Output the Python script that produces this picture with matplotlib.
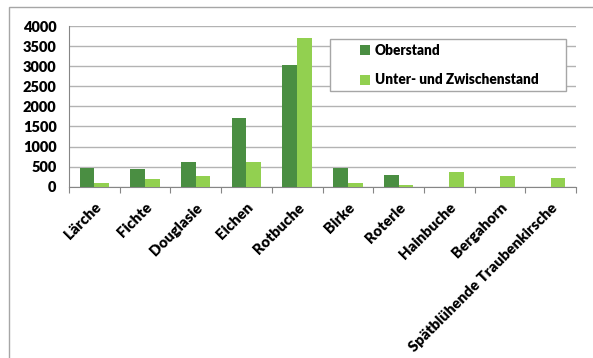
import numpy as np
from matplotlib import pyplot as plt
from matplotlib.patches import Rectangle

species = ['Lärche', 'Fichte', 'Douglasie', 'Eichen', 'Rotbuche', 'Birke',
           'Roterle', 'Hainbuche', 'Bergahorn', 'Spätblühende Traubenkirsche']
oberstand = [455, 435, 605, 1710, 3035, 470, 285, 0, 0, 0]
unterstand = [95, 180, 255, 605, 3705, 90, 40, 370, 265, 215]
yticks = [0, 500, 1000, 1500, 2000, 2500, 3000, 3500, 4000]

dark = '#4a8e42'
light = '#92d050'

plt.rcParams['font.family'] = ['Lato', 'DejaVu Sans']

fig = plt.figure(figsize=(5.93, 3.58), dpi=100)
# outer chart frame, cut off at right and bottom
fig.patches.append(Rectangle((9 / 593, -0.1), 1.2, 1 - 7 / 358 + 0.1,
                             transform=fig.transFigure, fill=False,
                             edgecolor='#a6a6a6', linewidth=1))

ax = fig.add_axes([69 / 593, 1 - 186.7 / 358, 507 / 593, 160.7 / 358])

x = np.arange(len(species))
w = 0.29
ax.bar(x - w / 2, oberstand, w, color=dark, label='Oberstand', zorder=3)
ax.bar(x + w / 2, unterstand, w, color=light, label='Unter- und Zwischenstand', zorder=3)

ax.set_xlim(-0.5, len(species) - 0.5)
ax.set_ylim(0, 4000)
ax.set_yticks(yticks)
ax.set_yticklabels([str(v) for v in yticks], fontsize=10.5, fontweight='heavy')
ax.tick_params(axis='y', length=0, pad=9)

ax.set_xticks(np.arange(len(species) + 1) - 0.5)
ax.set_xticklabels([])
ax.tick_params(axis='x', which='major', length=4, color='#868686', direction='out')
ax.set_xticks(x, minor=True)
ax.set_xticklabels(species, minor=True, rotation=45, ha='right',
                   rotation_mode='anchor', fontsize=10.8, fontweight='heavy')
ax.tick_params(axis='x', which='minor', length=0, pad=10)

ax.grid(axis='y', color='#b3b3b3', linewidth=1, zorder=0)
for s in ['top', 'right']:
    ax.spines[s].set_visible(False)
ax.spines['left'].set_color('#868686')
ax.spines['bottom'].set_color('#868686')

# legend box
ax.add_patch(Rectangle((330 / 593, 1 - 91 / 358), 236 / 593, 52.3 / 358,
                       transform=fig.transFigure, facecolor='white', clip_on=False,
                       edgecolor='#a6a6a6', linewidth=1, zorder=4))
leg = ax.legend(loc='upper left', bbox_to_anchor=(360 / 593, 1 - 44 / 358),
                bbox_transform=fig.transFigure, frameon=False,
                prop={'weight': 'heavy', 'size': 9.8}, handlelength=0.75, handleheight=0.75,
                handletextpad=0.35, labelspacing=1.2, borderpad=0, borderaxespad=0)
leg.set_zorder(5)

plt.savefig('out.png', dpi=100)
